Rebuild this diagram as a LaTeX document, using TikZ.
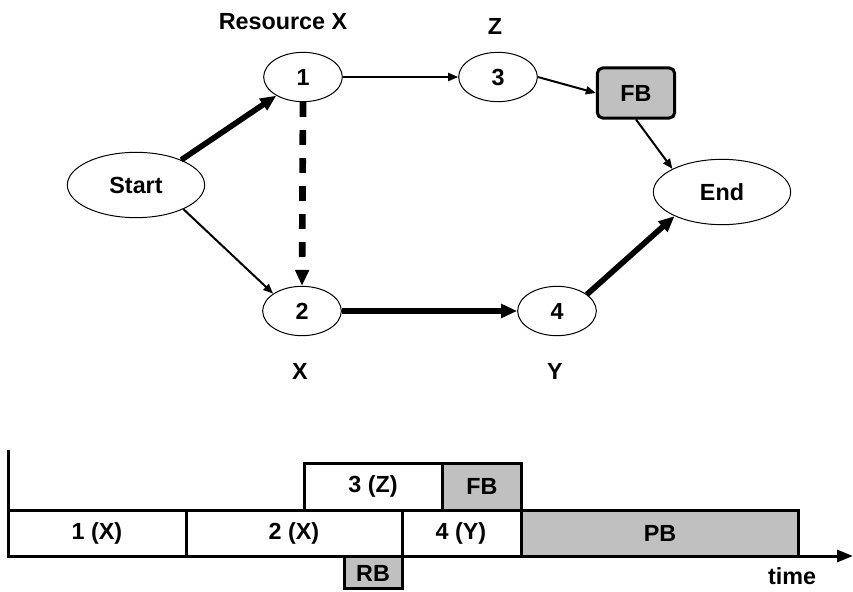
\documentclass[tikz,border=0pt]{standalone}
\usepackage{fontspec}
\setmainfont{Liberation Sans}
\usetikzlibrary{shapes.geometric,arrows.meta}

\definecolor{bufgray}{HTML}{C0C0C0}

\tikzset{every picture/.style={line width=0.75pt}}
\tikzset{
  every node/.style={font=\bfseries\fontsize{17.5}{21}\selectfont},
  event/.style={draw, ellipse, inner sep=0pt, minimum width=59pt, minimum height=37pt},
  bigevent/.style={event, minimum width=103pt, minimum height=49pt},
  buffer/.style={draw, rounded corners=4pt, fill=bufgray, line width=2.25pt,
    minimum width=58pt, minimum height=37.5pt, inner sep=0pt},
  thinarrow/.style={-{Triangle[length=7.5pt,width=6pt]}, line width=1.5pt},
  thickarrow/.style={-{Triangle[length=12pt,width=10pt]}, line width=4.25pt},
  bar/.style={draw, line width=2.25pt},
}

\begin{document}
\begin{tikzpicture}[x=0.75pt,y=0.75pt,yscale=-1,xscale=1]
\useasboundingbox (0,0) rectangle (853,592);

% network
\node[bigevent] (start) at (136,185) {Start};
\node[event] (n1) at (303,77) {1};
\node[event] (n2) at (302,311) {2};
\node[event] (n3) at (498,77) {3};
\node[event] (n4) at (557,311) {4};
\node[buffer] (fb) at (636,93) {FB};
\node[bigevent] (finish) at (722,192) {End};

% resource labels
\node (resx) at (283,22) {Resource X};
\node (resz) at (495,26) {Z};
\node (resx2) at (300,371) {X};
\node (resy) at (555,371) {Y};

\draw[thickarrow] (start.29) -- (n1.215);
\draw[thinarrow] (start.333) -- (n2.149);
\draw[thickarrow, line width=5pt, dash pattern={on 11pt off 10pt}] (n1.south) -- (n2.north);
\draw[thinarrow] (n1) -- (n3);
\draw[thinarrow] (n3.east) -- (fb.west);
\draw[thinarrow] (fb.south) -- (finish.155);
\draw[thickarrow] (n2) -- (n4);
\draw[thickarrow] (n4.29) -- (finish.207);

% schedule
\draw[bar] (8,510) rectangle (186,556);
\draw[bar] (186,510) rectangle (402,556);
\draw[bar] (402,510) rectangle (521,556);
\draw[bar, fill=bufgray] (521,510) rectangle (798,556);
\draw[bar] (304,463) rectangle (442,510);
\draw[bar, fill=bufgray] (442,463) rectangle (521,510);
\draw[bar, fill=bufgray] (344,556) rectangle (402,588);

\node (t1) at (97,533) {1 (X)};
\node (t2) at (294,533) {2 (X)};
\node (t4) at (461,533) {4 (Y)};
\node (pb) at (660,533) {PB};
\node (t3) at (373,486) {3 (Z)};
\node (fb2) at (482,486) {FB};
\node (rb) at (373,573) {RB};

% axes
\coordinate (top) at (8,450);
\coordinate (origin) at (8,556);
\coordinate (tend) at (853,556);
\draw[line width=2.25pt, -{Triangle[length=12pt,width=9pt]}] (top) -- (origin) -- (tend);
\node (time) at (792,576) {time};

\end{tikzpicture}
\end{document}
